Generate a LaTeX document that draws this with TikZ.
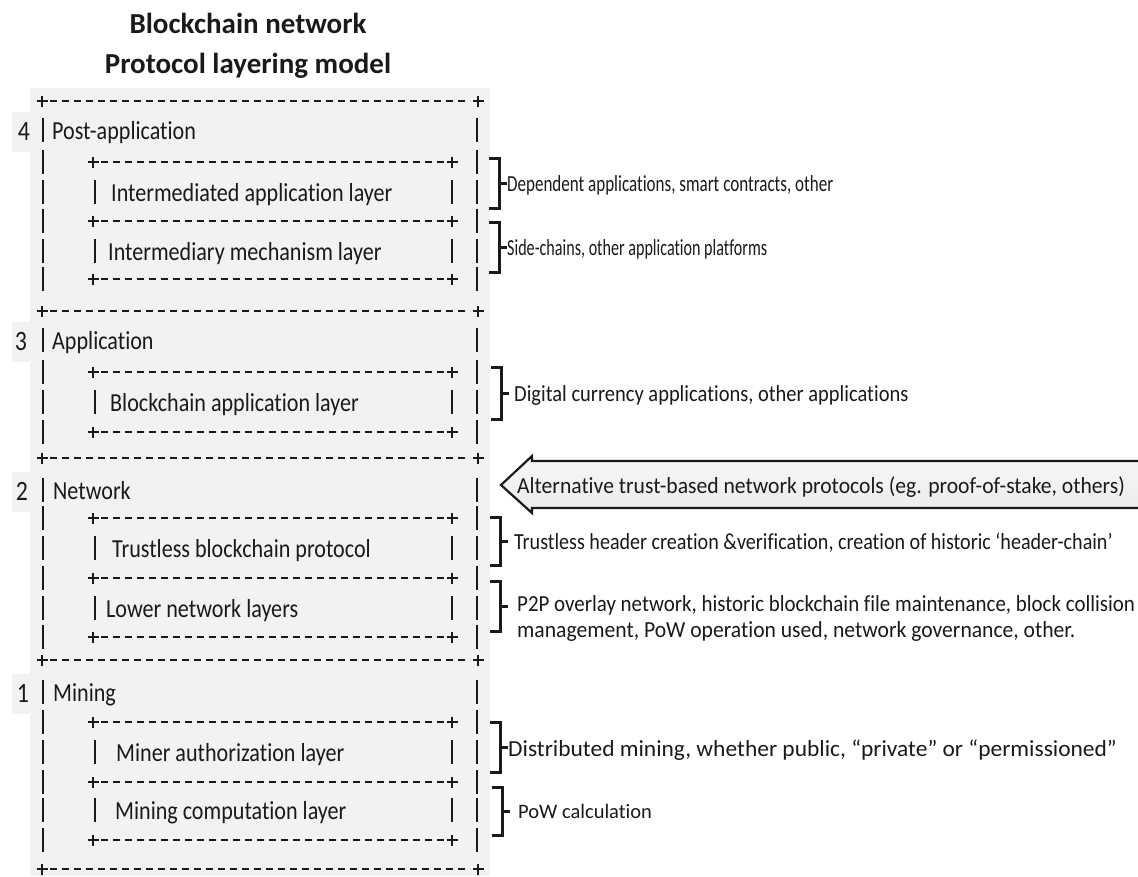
\documentclass[tikz,border=0pt]{standalone}
\usepackage{fontspec}
\usepackage{graphicx}
\setmainfont[Ligatures={NoCommon,NoRare}]{Carlito}
\newfontfamily\lfont[FakeStretch=0.85,Ligatures={NoCommon,NoRare}]{Carlito}
\newfontfamily\rfont[Ligatures={NoCommon,NoRare}]{Carlito}
\definecolor{ink}{HTML}{1A1A1A}
\definecolor{panel}{HTML}{F2F2F2}
\newcommand\plusrow[3]{%
  \draw[dashln] ({#1+8},#3) -- ({#2-8},#3);
  \draw[ln] ({#1-5.5},#3) -- ({#1+5.5},#3) (#1,{#3-5.5}) -- (#1,{#3+5.5});
  \draw[ln] ({#2-5.5},#3) -- ({#2+5.5},#3) (#2,{#3-5.5}) -- (#2,{#3+5.5});
}
\newcommand\vbar[2]{\draw[ln] (#1,{#2-12}) -- (#1,{#2+12});}
\newcommand\brkt[3]{%
  \draw[brk] ({#3-10},#1) -- (#3,#1) -- (#3,#2) -- ({#3-10},#2);
  \draw[brk] (#3,{(#1+#2)/2}) -- ({#3+8},{(#1+#2)/2});
}
\newcommand\sx[2]{\scalebox{#1}[1]{#2}}
\begin{document}
\begin{tikzpicture}[x=1pt,y=-1pt,
  ln/.style={line width=2pt, draw=ink},
  dashln/.style={ln, dash pattern=on 7pt off 5pt},
  brk/.style={line width=3pt, draw=ink},
  lbl/.style={anchor=base west, inner sep=0pt, text=ink, font=\lfont\fontsize{26}{30}\selectfont},
  num/.style={anchor=base, inner sep=0pt, text=ink, font=\lfont\fontsize{28}{30}\selectfont},
  ann/.style={anchor=base west, inner sep=0pt, text=ink, font=\rfont\fontsize{23}{26}\selectfont},
  ttl/.style={anchor=base, inner sep=0pt, text=ink, font=\bfseries\fontsize{29}{32}\selectfont}]
\useasboundingbox (0,0) rectangle (1138,876);
\fill[white] (0,0) rectangle (1138,876);
% panel
\fill[panel] (30,88) rectangle (490,876);
\foreach \r in {130,340,490,692} \fill[panel] (12,{\r-18}) rectangle (32,{\r+22});
% title
\node[ttl] (t1) at (248,33) {Blockchain network};
\node[ttl] (t2) at (248,73) {Protocol layering model};
% outer plus rows
\foreach \y in {101,311,458,660,869} {\plusrow{42}{478}{\y}}
% inner plus rows
\foreach \y in {162,221,279,372,432,518,578,637,722,782,840} {\plusrow{93}{452}{\y}}
% outer bars
\foreach \y in {130,162,192,221,251,279,340,372,402,432,490,518,548,578,608,637,692,722,752,782,810,840} {\vbar{43}{\y}\vbar{477}{\y}}
% inner bars
\foreach \y in {192,251,402,548,608,752,810} {\vbar{95}{\y}\vbar{452}{\y}}
% numbers
\node[num] (n4) at (24,140) {4};
\node[num] (n3) at (21,350) {3};
\node[num] (n2) at (22,500) {2};
\node[num] (n1) at (23,702) {1};
% section labels
\node[lbl] (s4) at (52,139) {Post-application};
\node[lbl] (s3) at (52,349) {Application};
\node[lbl] (s2) at (53,499) {Network};
\node[lbl] (s1) at (53,701) {Mining};
% layer labels
\node[lbl] (l41) at (111,201) {Intermediated application layer};
\node[lbl] (l42) at (108,260) {Intermediary mechanism layer};
\node[lbl] (l31) at (110,411) {Blockchain application layer};
\node[lbl] (l21) at (112,557) {Trustless blockchain protocol};
\node[lbl] (l22) at (106,617) {Lower network layers};
\node[lbl] (l11) at (116,761) {Miner authorization layer};
\node[lbl] (l12) at (115,819) {Mining computation layer};
% brackets
\brkt{158}{208}{499}
\brkt{222}{272}{499}
\brkt{367}{419}{501}
\brkt{517}{565}{500}
\brkt{581}{631}{500}
\brkt{722}{772}{500}
\brkt{787}{835}{502}
% annotations
\node[ann] (a1) at (507,191) {\sx{0.74}{Dependent applications, smart contracts, other}};
\node[ann] (a2) at (507,255) {\sx{0.70}{Side-chains, other application platforms}};
\node[ann] (a3) at (514,401) {\sx{0.89}{Digital currency applications, other applications}};
\node[ann] (a4) at (514,549) {\sx{0.873}{Trustless header creation \&verification, creation of historic ‘header-chain’}};
\node[ann] (a5) at (517,611) {\sx{0.91}{P2P overlay network, historic blockchain file maintenance, block collision}};
\node[ann] (a6) at (517,637) {\sx{0.94}{management, PoW operation used, network governance, other.}};
\node[ann] (a7) at (508,756) {\sx{1.02}{Distributed mining, whether public, “private” or “permissioned”}};
\node[anchor=base west, inner sep=0pt, text=ink, font=\rfont\fontsize{20.5}{24}\selectfont] (a8) at (518,818) {PoW calculation};
% block arrow
\path[top color=gray!6, bottom color=gray!16] (1142,461) -- (532,461) -- (532,456) -- (501,485) -- (532,513) -- (532,508) -- (1142,508) -- cycle;
\draw[line width=2.2pt, draw=ink, line join=miter] (1142,461) -- (532,461) -- (532,456) -- (501,485) -- (532,513) -- (532,508) -- (1142,508);
\node[ann] (arr) at (517,493) {\sx{0.94}{Alternative trust-based network protocols (eg. proof-of-stake, others)}};
\end{tikzpicture}
\end{document}
